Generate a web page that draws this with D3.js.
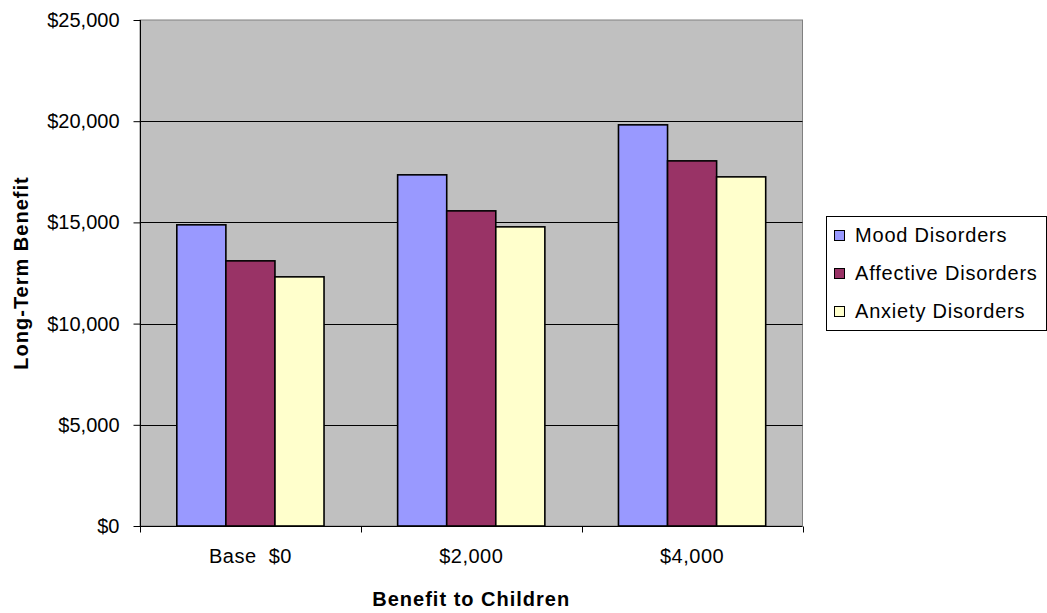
<!DOCTYPE html>
<html>
<head>
<meta charset="utf-8">
<script src="https://cdn.jsdelivr.net/npm/d3@7"></script>
<style>
  html, body { margin: 0; padding: 0; background: #ffffff; }
  svg { display: block; font-family: Arial, "Liberation Sans", sans-serif; }
</style>
</head>
<body>
<svg id="chart" width="1047" height="613"></svg>
<script>
// Categories along the x axis
const categories = ["Base  $0", "$2,000", "$4,000"];
// Series names (legend order) and their values per category
const seriesNames = ["Mood Disorders", "Affective Disorders", "Anxiety Disorders"];
const moodValues = [14880, 17350, 19820];
const affectiveValues = [13100, 15570, 18040];
const anxietyValues = [12310, 14780, 17250];
const seriesColors = ["#9999FF", "#993366", "#FFFFCC"];
// Y axis ticks
const yTicks = [0, 5000, 10000, 15000, 20000, 25000];

const seriesValues = [moodValues, affectiveValues, anxietyValues];

const FONT = 20;
const svg = d3.select("#chart");
const plot = { left: 140, right: 802.5, top: 20, bottom: 526 };

const x0 = d3.scaleBand()
  .domain(categories)
  .range([plot.left, plot.right])
  .paddingInner(0)
  .paddingOuter(0);

// Gap width of 150%: bars take 3/(3+1.5) of each category
const groupFrac = 3 / 4.5;
const x1 = d3.scaleBand()
  .domain(seriesNames)
  .range([x0.bandwidth() * (1 - groupFrac) / 2, x0.bandwidth() * (1 + groupFrac) / 2]);

const y = d3.scaleLinear().domain([0, 25000]).range([plot.bottom, plot.top]);

// Plot background
svg.append("rect")
  .attr("x", plot.left).attr("y", plot.top)
  .attr("width", plot.right - plot.left).attr("height", plot.bottom - plot.top)
  .attr("fill", "#C0C0C0")
  .attr("stroke", "#808080").attr("stroke-width", 1);

// Horizontal gridlines
svg.append("g")
  .selectAll("line")
  .data(yTicks.filter(t => t > 0 && t < 25000))
  .join("line")
  .attr("x1", plot.left).attr("x2", plot.right)
  .attr("y1", d => Math.round(y(d)) + 0.5).attr("y2", d => Math.round(y(d)) + 0.5)
  .attr("stroke", "#000").attr("stroke-width", 1);

// Bars
const groups = svg.append("g")
  .selectAll("g")
  .data(categories)
  .join("g")
  .attr("transform", d => `translate(${x0(d)},0)`);

groups.selectAll("rect")
  .data((d, i) => seriesNames.map((s, j) => ({ s, v: seriesValues[j][i], c: seriesColors[j] })))
  .join("rect")
  .attr("x", d => x1(d.s))
  .attr("y", d => y(d.v))
  .attr("width", x1.bandwidth())
  .attr("height", d => plot.bottom - y(d.v))
  .attr("fill", d => d.c)
  .attr("stroke", "#000")
  .attr("stroke-width", 1.6);

// Y axis
const yAxis = d3.axisLeft(y)
  .tickValues(yTicks)
  .tickSize(7)
  .tickPadding(14)
  .tickFormat(d => "$" + d3.format(",")(d));

const gy = svg.append("g")
  .attr("transform", `translate(${plot.left + 0.5},0)`)
  .call(yAxis);
gy.selectAll(".tick line").attr("stroke", "#000");
gy.select(".domain").attr("stroke", "#000").attr("d", `M0,${plot.top}V${plot.bottom}`);
gy.selectAll("text")
  .attr("font-size", FONT)
  .attr("font-family", "Arial, 'Liberation Sans', sans-serif")
  .attr("fill", "#000");

// X axis with ticks at category boundaries
const gx = svg.append("g")
  .attr("transform", `translate(0,${plot.bottom + 0.5})`);
gx.append("line")
  .attr("x1", plot.left).attr("x2", plot.right)
  .attr("stroke", "#000");
gx.selectAll("line.tick")
  .data(categories.map(c => x0(c)).concat([plot.right]))
  .join("line")
  .attr("class", "tick")
  .attr("x1", d => Math.round(d) + 0.5).attr("x2", d => Math.round(d) + 0.5)
  .attr("y1", 0).attr("y2", 6)
  .attr("stroke", "#000");
gx.selectAll("text")
  .data(categories)
  .join("text")
  .attr("x", d => x0(d) + x0.bandwidth() / 2)
  .attr("y", 36)
  .attr("text-anchor", "middle")
  .attr("font-size", FONT)
  .attr("letter-spacing", 0.5)
  .attr("fill", "#000")
  .style("white-space", "pre")
  .text(d => d);

// Axis titles
svg.append("text")
  .attr("x", (plot.left + plot.right) / 2)
  .attr("y", 606)
  .attr("text-anchor", "middle")
  .attr("font-size", FONT)
  .attr("font-weight", "bold")
  .attr("letter-spacing", 1)
  .attr("fill", "#000")
  .text("Benefit to Children");

svg.append("text")
  .attr("transform", `translate(28,${(plot.top + plot.bottom) / 2}) rotate(-90)`)
  .attr("text-anchor", "middle")
  .attr("font-size", FONT)
  .attr("font-weight", "bold")
  .attr("letter-spacing", 1)
  .attr("fill", "#000")
  .text("Long-Term Benefit");

// Legend
const legend = svg.append("g");
legend.append("rect")
  .attr("x", 826.5).attr("y", 216.5)
  .attr("width", 220).attr("height", 114)
  .attr("fill", "#fff")
  .attr("stroke", "#000").attr("stroke-width", 1);

const rowY = d3.scalePoint().domain(seriesNames).range([242, 318]);
const items = legend.selectAll("g.item")
  .data(seriesNames.map((s, i) => ({ s, c: seriesColors[i] })))
  .join("g")
  .attr("class", "item")
  .attr("transform", d => `translate(0,${rowY(d.s)})`);
items.append("rect")
  .attr("x", 834.5).attr("y", -11.5)
  .attr("width", 10).attr("height", 10)
  .attr("fill", d => d.c)
  .attr("stroke", "#000").attr("stroke-width", 1);
items.append("text")
  .attr("x", 855)
  .attr("y", 0)
  .attr("font-size", FONT)
  .attr("letter-spacing", 0.8)
  .attr("fill", "#000")
  .text(d => d.s);
</script>
</body>
</html>
